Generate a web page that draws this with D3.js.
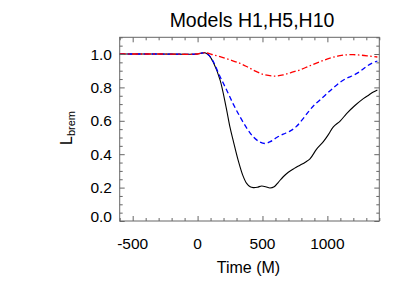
<!DOCTYPE html>
<html>
<head>
<meta charset="utf-8">
<script src="https://cdn.jsdelivr.net/npm/d3@7"></script>
<style>
  body { margin: 0; background: #fff; }
  svg { display: block; font-family: "Liberation Sans", Arial, sans-serif; }
</style>
</head>
<body>
<div id="chart"></div>
<script>
// time samples (M) and luminosity values for each model
const timeH1 = [-600, -300, 0, 30, 57, 90, 121, 173, 220, 250, 275, 314, 350, 378, 405, 429, 460, 494, 525, 558, 590, 622, 660, 699, 745, 789, 830, 866, 917, 969, 1010, 1046, 1100, 1148, 1210, 1277, 1320, 1354, 1385];
const valH1 = [1.0, 1.0, 1.0, 1.005, 1.008, 0.99, 0.95, 0.845, 0.68, 0.56, 0.48, 0.36, 0.27, 0.225, 0.205, 0.2, 0.202, 0.21, 0.205, 0.198, 0.205, 0.232, 0.265, 0.292, 0.315, 0.334, 0.352, 0.372, 0.43, 0.475, 0.52, 0.564, 0.6, 0.643, 0.69, 0.733, 0.755, 0.772, 0.785];

const timeH5 = [-600, -300, 0, 30, 60, 90, 121, 170, 224, 275, 327, 380, 429, 475, 519, 560, 610, 660, 712, 760, 810, 860, 900, 943, 1000, 1050, 1100, 1148, 1200, 1250, 1300, 1341, 1385];
const valH5 = [1.0, 1.0, 1.0, 1.005, 1.008, 0.99, 0.955, 0.87, 0.784, 0.7, 0.624, 0.555, 0.504, 0.475, 0.464, 0.475, 0.5, 0.52, 0.538, 0.565, 0.61, 0.66, 0.695, 0.725, 0.765, 0.8, 0.832, 0.855, 0.872, 0.895, 0.925, 0.944, 0.958];

const timeH10 = [-600, -300, 0, 30, 60, 110, 173, 250, 327, 390, 455, 520, 596, 660, 720, 789, 860, 943, 1020, 1097, 1150, 1198, 1260, 1320, 1385];
const valH10 = [1.0, 1.0, 1.0, 1.005, 1.008, 0.997, 0.984, 0.965, 0.944, 0.92, 0.894, 0.875, 0.868, 0.875, 0.889, 0.905, 0.928, 0.954, 0.975, 0.99, 0.995, 0.996, 0.993, 0.988, 0.982];

const xMajor = [-500, 0, 500, 1000];
const yMajor = [0.0, 0.2, 0.4, 0.6, 0.8, 1.0];

const W = 415, H = 297;
const box = { left: 119.7, right: 379.3, top: 37.3, bottom: 221 };

const svg = d3.select('#chart').append('svg')
  .attr('width', W)
  .attr('height', H);

const x = d3.scaleLinear().domain([-600, 1400]).range([box.left, box.right]);
const y = d3.scaleLinear().domain([0, 1.1]).range([box.bottom, box.top]);

const series = [
  { t: timeH1, v: valH1, color: '#000000', dash: null, width: 1.1 },
  { t: timeH5, v: valH5, color: '#0000ff', dash: '5,3', width: 1.3 },
  { t: timeH10, v: valH10, color: '#ff0000', dash: '6,2.5,1.5,2.5', width: 1.3 }
];

const line = d3.line()
  .x(d => x(d[0]))
  .y(d => y(d[1]))
  .curve(d3.curveCatmullRom.alpha(0.5));

series.forEach(s => {
  svg.append('path')
    .datum(s.t.map((t, i) => [t, s.v[i]]))
    .attr('fill', 'none')
    .attr('stroke', s.color)
    .attr('stroke-width', s.width)
    .attr('stroke-dasharray', s.dash)
    .attr('d', line);
});

// frame with ticks on all four sides, ticks point inward
const axisColor = '#666';
const xMinor = d3.range(-600, 1401, 100).filter(v => !xMajor.includes(v));
const yMinor = d3.range(0, 23).map(i => +(i * 0.05).toFixed(2)).filter(v => !yMajor.includes(v));

function ticks(axis, pos, values, len) {
  svg.append('g')
    .attr('transform', pos)
    .call(axis.tickValues(values).tickSize(-len).tickFormat(''))
    .call(g => g.select('.domain').remove());
}
ticks(d3.axisBottom(x), `translate(0,${box.bottom})`, xMajor, 5);
ticks(d3.axisBottom(x), `translate(0,${box.bottom})`, xMinor, 3);
ticks(d3.axisTop(x), `translate(0,${box.top})`, xMajor, 5);
ticks(d3.axisTop(x), `translate(0,${box.top})`, xMinor, 3);
ticks(d3.axisLeft(y), `translate(${box.left},0)`, yMajor, 5);
ticks(d3.axisLeft(y), `translate(${box.left},0)`, yMinor, 3);
ticks(d3.axisRight(y), `translate(${box.right},0)`, yMajor, 5);
ticks(d3.axisRight(y), `translate(${box.right},0)`, yMinor, 3);

svg.selectAll('.tick line').attr('stroke', axisColor);

svg.append('rect')
  .attr('x', box.left)
  .attr('y', box.top)
  .attr('width', box.right - box.left)
  .attr('height', box.bottom - box.top)
  .attr('fill', 'none')
  .attr('stroke', axisColor)
  .attr('stroke-width', 1);

// tick labels
svg.selectAll('.xlab')
  .data(xMajor)
  .join('text')
  .attr('x', d => x(d))
  .attr('y', 249)
  .attr('text-anchor', 'middle')
  .attr('font-size', 15.5)
  .text(d => d);

// lowest label kept above the bottom edge, as in the original
svg.selectAll('.ylab')
  .data(yMajor)
  .join('text')
  .attr('x', 112)
  .attr('y', d => Math.min(y(d) + 5.5, box.bottom + 0.5))
  .attr('text-anchor', 'end')
  .attr('font-size', 15.5)
  .text(d => d.toFixed(1));

// title and axis titles
svg.append('text')
  .attr('x', 252)
  .attr('y', 26.7)
  .attr('text-anchor', 'middle')
  .attr('font-size', 19.5)
  .text('Models H1,H5,H10');

svg.append('text')
  .attr('x', 248.5)
  .attr('y', 273)
  .attr('text-anchor', 'middle')
  .attr('font-size', 16)
  .text('Time (M)');

const ylab = svg.append('text')
  .attr('transform', 'translate(72,145) rotate(-90)')
  .attr('font-size', 16);
ylab.append('tspan').text('L');
ylab.append('tspan').attr('font-size', 11).attr('dy', 3).text('brem');
</script>
</body>
</html>
